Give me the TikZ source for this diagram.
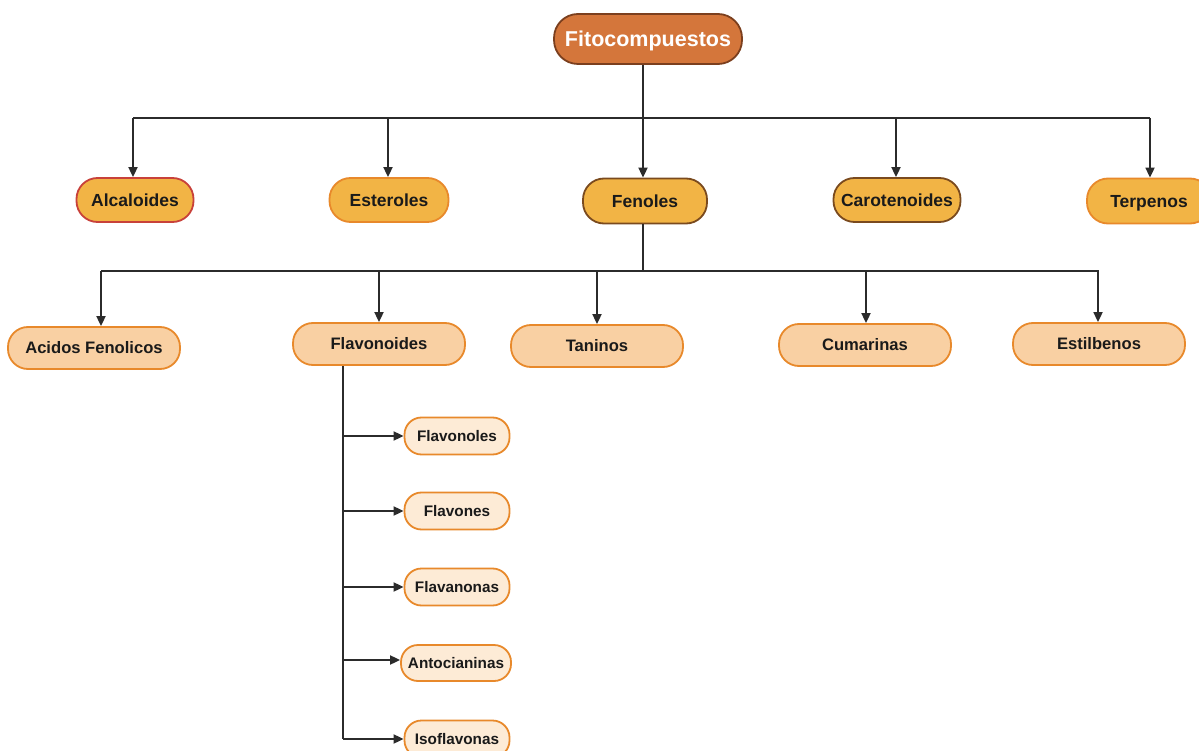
\documentclass[tikz,border=0pt]{standalone}
\usepackage{fontspec}
\setmainfont{Liberation Sans}
\usetikzlibrary{arrows.meta}
\definecolor{rootfill}{HTML}{D4763B}
\definecolor{rootline}{HTML}{7B3F1E}
\definecolor{lvlonefill}{HTML}{F2B445}
\definecolor{lvltwofill}{HTML}{F9D0A3}
\definecolor{lvlthreefill}{HTML}{FDEBD6}
\definecolor{edgeorange}{HTML}{E8892B}
\definecolor{edgebrown}{HTML}{7A4A1E}
\definecolor{edgered}{HTML}{C8413A}
\definecolor{ink}{HTML}{1A1A1A}
\definecolor{wire}{HTML}{2B2B2B}
\tikzset{
  pill/.style={draw, line width=1.8pt, inner sep=0pt, text depth=0pt, font=\bfseries, text=ink},
  rootbox/.style={pill, fill=rootfill, draw=rootline, minimum width=188pt, minimum height=50pt,
    rounded corners=24pt, text=white, text height=15.4pt, font=\fontsize{21.5}{24}\bfseries\selectfont},
  onebox/.style={pill, fill=lvlonefill, minimum height=44pt, rounded corners=21pt,
    text height=12.5pt, font=\fontsize{17.5}{20}\bfseries\selectfont},
  twobox/.style={pill, fill=lvltwofill, draw=edgeorange, minimum width=172pt, minimum height=42pt,
    rounded corners=20pt, text height=11.9pt, font=\fontsize{16.6}{19}\bfseries\selectfont},
  threebox/.style={pill, fill=lvlthreefill, draw=edgeorange, minimum width=105pt, minimum height=37pt,
    rounded corners=17pt, text height=11pt, font=\fontsize{15.3}{18}\bfseries\selectfont},
  wireline/.style={draw=wire, line width=1.8pt},
  arr/.style={wireline, -{Triangle[length=10pt,width=9pt]}},
}
\begin{document}
\begin{tikzpicture}[x=1pt,y=-1pt]
\useasboundingbox[fill=white] (0,0) rectangle (1199,751);

% root
\node[rootbox] (fito) at (648,39) {Fitocompuestos};

% first level
\node[onebox, draw=edgered, minimum width=117pt] (alc) at (135,200) {Alcaloides};
\node[onebox, draw=edgeorange, minimum width=119pt] (est) at (389,200) {Esteroles};
\node[onebox, draw=edgebrown, minimum width=124pt, minimum height=45pt] (fen) at (645,201) {Fenoles};
\node[onebox, draw=edgebrown, minimum width=127pt] (car) at (897,200) {Carotenoides};
\node[onebox, draw=edgeorange, minimum width=124pt, minimum height=45pt] (ter) at (1149,201) {Terpenos};

% second level
\node[twobox] (aci) at (94,348) {Acidos Fenolicos};
\node[twobox] (flv) at (379,344) {Flavonoides};
\node[twobox] (tan) at (597,346) {Taninos};
\node[twobox] (cum) at (865,345) {Cumarinas};
\node[twobox] (sti) at (1099,344) {Estilbenos};

% third level
\node[threebox] (fnl) at (457,436) {Flavonoles};
\node[threebox] (fns) at (457,511) {Flavones};
\node[threebox] (fna) at (457,587) {Flavanonas};
\node[threebox, minimum width=110pt, minimum height=36pt] (ant) at (456,663) {Antocianinas};
\node[threebox] (iso) at (457,739) {Isoflavonas};

% bus from the root
\coordinate (busone) at (643,118);
\draw[wireline] (fito.south -| busone) -- (busone);
\draw[wireline] ([xshift=-2pt]alc.north |- busone) -- ([xshift=1pt]ter.north |- busone);
\draw[arr] ([xshift=-2pt]alc.north |- busone) -- ([xshift=-2pt]alc.north);
\draw[arr] ([xshift=-1pt]est.north |- busone) -- ([xshift=-1pt]est.north);
\draw[arr] (busone) -- (busone |- fen.north);
\draw[arr] ([xshift=-1pt]car.north |- busone) -- ([xshift=-1pt]car.north);
\draw[arr] ([xshift=1pt]ter.north |- busone) -- ([xshift=1pt]ter.north);

% bus from Fenoles
\coordinate (bustwo) at (643,271);
\draw[wireline] (fen.south -| bustwo) -- (bustwo);
\draw[wireline] ([xshift=7pt]aci.north |- bustwo) -- (sti.north |- bustwo);
\draw[arr] ([xshift=7pt]aci.north |- bustwo) -- ([xshift=7pt]aci.north);
\draw[arr] (flv.north |- bustwo) -- (flv.north);
\draw[arr] (tan.north |- bustwo) -- (tan.north);
\draw[arr] ([xshift=1pt]cum.north |- bustwo) -- ([xshift=1pt]cum.north);
\draw[arr] ([xshift=-1pt]sti.north |- bustwo) -- ([xshift=-1pt]sti.north);

% trunk from Flavonoides
\coordinate (trunk) at (343,365);
\draw[wireline] (flv.south -| trunk) -- (trunk |- iso.west);
\draw[arr] (trunk |- fnl.west) -- (fnl.west);
\draw[arr] (trunk |- fns.west) -- (fns.west);
\draw[arr] (trunk |- fna.west) -- (fna.west);
\draw[arr] ([yshift=3pt]trunk |- ant.west) -- ([yshift=3pt]ant.west);
\draw[arr] (trunk |- iso.west) -- (iso.west);
\end{tikzpicture}
\end{document}
